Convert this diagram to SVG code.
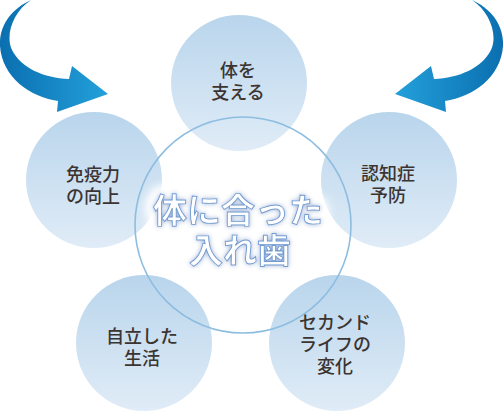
<svg xmlns="http://www.w3.org/2000/svg" width="503" height="412" viewBox="0 0 503 412">
<defs>
<linearGradient id="cg" x1="0" y1="0" x2="0" y2="1">
<stop offset="0" stop-color="#b9d5ec"/>
<stop offset="1" stop-color="#e0ecf7"/>
</linearGradient>
<linearGradient id="ag" x1="0" y1="0" x2="1" y2="0">
<stop offset="0" stop-color="#0b6fb0"/>
<stop offset="1" stop-color="#23a0da"/>
</linearGradient>
<filter id="glow" x="-30%" y="-40%" width="160%" height="180%">
<feMorphology in="SourceAlpha" operator="dilate" radius="4" result="d"/>
<feGaussianBlur in="d" stdDeviation="6" result="b"/>
<feFlood flood-color="#ffffff"/>
<feComposite in2="b" operator="in" result="white"/>
<feGaussianBlur in="SourceAlpha" stdDeviation="2.5" result="b2"/>
<feFlood flood-color="#6a98d0" flood-opacity="0.9"/>
<feComposite in2="b2" operator="in" result="blue"/>
<feMerge><feMergeNode in="white"/><feMergeNode in="white"/><feMergeNode in="white"/><feMergeNode in="blue"/><feMergeNode in="SourceGraphic"/></feMerge>
</filter>
<path id="arrow" d="M 31 0 C 11 9, -1 26, 0 46 C 2 77, 30 97, 58 101 L 57 112 L 108 94 L 72 66 L 69 79 C 44 78, 21 68, 12 50 C 5 35, 13 12, 31 0 Z"/>
</defs>
<style>
.node{fill:url(#cg);}
.lbl{font-family:"Liberation Sans","Noto Sans CJK JP",sans-serif;font-size:18px;font-weight:500;fill:#3b3431;text-anchor:middle;}
.big{font-family:"Liberation Sans","Noto Sans CJK JP",sans-serif;font-size:34px;font-weight:700;fill:#ffffff;stroke:#6f9ad0;stroke-width:0.9;text-anchor:middle;filter:url(#glow);}
</style>
<g id="connectors">
<use href="#arrow" fill="url(#ag)"/>
<g transform="translate(503,0) scale(-1,1)"><use href="#arrow" fill="url(#ag)"/></g>
</g>
<g id="node-top"><circle class="node" cx="239" cy="83" r="68"/></g>
<g id="node-left"><circle class="node" cx="94" cy="180" r="68"/></g>
<g id="node-right"><circle class="node" cx="389" cy="180" r="68"/></g>
<g id="node-bottomleft"><circle class="node" cx="144" cy="343" r="68"/></g>
<g id="node-bottomright"><circle class="node" cx="337" cy="343" r="68"/></g>
<g id="center"><circle cx="243" cy="225" r="108" fill="none" stroke="#8dbde0" stroke-width="1.6"/></g>
<g id="labels">
<text class="lbl" x="238" y="77">体を<tspan x="238" dy="22">支える</tspan></text>
<text class="lbl" x="93" y="181">免疫力<tspan x="93" dy="22">の向上</tspan></text>
<text class="lbl" x="388" y="180">認知症<tspan x="388" dy="22">予防</tspan></text>
<text class="lbl" x="142" y="343">自立した<tspan x="142" dy="22">生活</tspan></text>
<text class="lbl" x="335" y="329">セカンド<tspan x="335" dy="22">ライフの</tspan><tspan x="335" dy="22">変化</tspan></text>
</g>
<g id="center-label">
<text class="big" x="238" y="223">体に合った<tspan x="240" dy="40">入れ歯</tspan></text>
</g>
</svg>
